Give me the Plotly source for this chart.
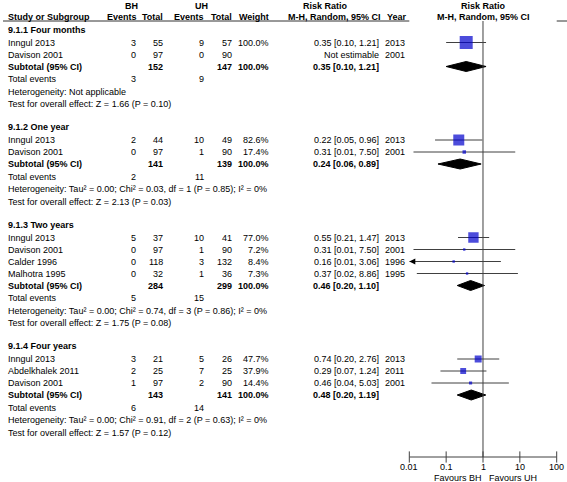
import math
import plotly.graph_objects as go

W, H = 567, 482

# ---------------- data ----------------
groups = ["9.1.1 Four months", "9.1.2 One year", "9.1.3 Two years", "9.1.4 Four years"]
study_group = [0, 0, 1, 1, 2, 2, 2, 2, 3, 3, 3]
study_names = ["Inngul 2013", "Davison 2001", "Inngul 2013", "Davison 2001", "Inngul 2013",
               "Davison 2001", "Calder 1996", "Malhotra 1995", "Inngul 2013",
               "Abdelkhalek 2011", "Davison 2001"]
bh_events = [3, 0, 2, 0, 5, 0, 0, 0, 3, 2, 1]
bh_total = [55, 97, 44, 97, 37, 97, 118, 32, 21, 25, 97]
uh_events = [9, 0, 10, 1, 10, 1, 3, 1, 5, 7, 2]
uh_total = [57, 90, 49, 90, 41, 90, 132, 36, 26, 25, 90]
weights = [100.0, None, 82.6, 17.4, 77.0, 7.2, 8.4, 7.3, 47.7, 37.9, 14.4]
rr = [0.35, None, 0.22, 0.31, 0.55, 0.31, 0.16, 0.37, 0.74, 0.29, 0.46]
rr_lo = [0.10, None, 0.05, 0.013, 0.21, 0.013, 0.008, 0.016, 0.20, 0.07, 0.04]
rr_hi = [1.21, None, 0.96, 7.50, 1.47, 7.50, 3.06, 8.86, 2.76, 1.24, 5.03]
years = [2013, 2001, 2013, 2001, 2013, 2001, 1996, 1995, 2013, 2011, 2001]

sub_bh_total = [152, 141, 284, 143]
sub_uh_total = [147, 139, 299, 141]
sub_bh_events = [3, 2, 5, 6]
sub_uh_events = [9, 11, 15, 14]
sub_rr = [0.35, 0.24, 0.46, 0.48]
sub_lo = [0.10, 0.06, 0.20, 0.20]
sub_hi = [1.21, 0.89, 1.10, 1.19]
heterogeneity = [
    "Heterogeneity: Not applicable",
    "Heterogeneity: Tau² = 0.00; Chi² = 0.03, df = 1 (P = 0.85); I² = 0%",
    "Heterogeneity: Tau² = 0.00; Chi² = 0.74, df = 3 (P = 0.86); I² = 0%",
    "Heterogeneity: Tau² = 0.00; Chi² = 0.91, df = 2 (P = 0.63); I² = 0%",
]
overall_effect = [
    "Test for overall effect: Z = 1.66 (P = 0.10)",
    "Test for overall effect: Z = 2.13 (P = 0.03)",
    "Test for overall effect: Z = 1.75 (P = 0.08)",
    "Test for overall effect: Z = 1.57 (P = 0.12)",
]
axis_ticks = [0.01, 0.1, 1, 10, 100]
axis_tick_labels = ["0.01", "0.1", "1", "10", "100"]
favours_left = "Favours BH"
favours_right = "Favours UH"

# ---------------- layout constants ----------------
FONT = "Arial, 'Liberation Sans', sans-serif"
FS = 9
X_NAME, X_BHE, X_BHT, X_UHE, X_UHT, X_WT, X_RR, X_YR = 7, 137, 164, 205, 233, 270, 380, 384
FOREST_L, FOREST_R = 409.3, 556.7
AXIS_Y = 457
SQ_COLOR = "#0000CC"
LINE_COLOR = "#404040"

fig = go.Figure()
ann = []


def txt(x, y, s, anchor="left", bold=False, size=FS, xref="x"):
    if bold:
        s = "<b>" + s + "</b>"
    ann.append(dict(x=x, y=y, xref=xref, yref="y", text=s, showarrow=False,
                    xanchor=anchor, yanchor="middle", borderpad=0,
                    font=dict(family=FONT, size=size, color="black")))


def fmt_rr(v, lo, hi):
    return f"{v:.2f} [{lo:.2f}, {hi:.2f}]"


# headers
txt(131, 6, "BH", "center", True)
txt(201, 6, "UH", "center", True)
txt(325, 6, "Risk Ratio", "center", True)
txt(0, 6, "Risk Ratio", "center", True, xref="x2")
txt(X_NAME, 16.5, "Study or Subgroup", "left", True)
txt(X_BHE + 1, 16.5, "Events", "right", True)
txt(X_BHT, 16.5, "Total", "right", True)
txt(X_UHE, 16.5, "Events", "right", True)
txt(X_UHT, 16.5, "Total", "right", True)
txt(X_WT, 16.5, "Weight", "right", True)
txt(X_RR + 2, 16.5, "M-H, Random, 95% CI", "right", True)
txt(X_YR + 2, 16.5, "Year", "left", True)
txt(0, 16.5, "M-H, Random, 95% CI", "center", True, xref="x2")

# header rule
fig.add_trace(go.Scatter(x=[3, 567], y=[21, 21], mode="lines", xaxis="x", yaxis="y",
                         line=dict(color="#333333", width=1), hoverinfo="skip"))

# ---------------- rows ----------------
sq_x, sq_y, sq_s = [], [], []
y = 29.5
for g, gname in enumerate(groups):
    if g > 0:
        y += 23
    txt(X_NAME, y, gname, "left", True)
    first = True
    for i in [k for k in range(len(study_names)) if study_group[k] == g]:
        y += 13 if first else 12
        first = False
        txt(X_NAME, y, study_names[i])
        txt(X_BHE, y, str(bh_events[i]), "right")
        txt(X_BHT, y, str(bh_total[i]), "right")
        txt(X_UHE, y, str(uh_events[i]), "right")
        txt(X_UHT, y, str(uh_total[i]), "right")
        if weights[i] is not None:
            txt(X_WT, y, f"{weights[i]:.1f}%", "right")
        txt(X_YR, y, str(years[i]), "left")
        if rr[i] is None:
            txt(X_RR, y, "Not estimable", "right")
            continue
        txt(X_RR, y, fmt_rr(rr[i], rr_lo[i], rr_hi[i]), "right")
        lo = max(rr_lo[i], axis_ticks[0])
        hi = min(rr_hi[i], axis_ticks[-1])
        fig.add_trace(go.Scatter(x=[lo, hi], y=[y, y], mode="lines", xaxis="x2", yaxis="y",
                                 line=dict(color=LINE_COLOR, width=1), hoverinfo="skip"))
        if rr_lo[i] < axis_ticks[0]:
            fig.add_trace(go.Scatter(x=[axis_ticks[0]], y=[y], mode="markers", xaxis="x2", yaxis="y",
                                     marker=dict(symbol="arrow-left", size=6, color="black",
                                                 line=dict(width=0)),
                                     hoverinfo="skip", cliponaxis=False))
        sq_x.append(rr[i]); sq_y.append(y); sq_s.append(1.5 + 0.115 * weights[i])
    # subtotal
    y += 12
    txt(X_NAME, y, "Subtotal (95% CI)", "left", True)
    txt(X_BHT, y, str(sub_bh_total[g]), "right", True)
    txt(X_UHT, y, str(sub_uh_total[g]), "right", True)
    txt(X_WT, y, "100.0%", "right", True)
    txt(X_RR, y, fmt_rr(sub_rr[g], sub_lo[g], sub_hi[g]), "right", True)
    h = 5
    fig.add_trace(go.Scatter(x=[sub_lo[g], sub_rr[g], sub_hi[g], sub_rr[g], sub_lo[g]],
                             y=[y, y - h, y, y + h, y], mode="lines", fill="toself",
                             fillcolor="black", line=dict(color="black", width=1),
                             xaxis="x2", yaxis="y", hoverinfo="skip"))
    y += 12.5
    txt(X_NAME, y, "Total events")
    txt(X_BHE, y, str(sub_bh_events[g]), "right")
    txt(X_UHE, y, str(sub_uh_events[g]), "right")
    y += 12.5
    txt(X_NAME, y, heterogeneity[g])
    y += 12.5
    txt(X_NAME, y, overall_effect[g])

# squares
fig.add_trace(go.Scatter(x=sq_x, y=sq_y, mode="markers", xaxis="x2", yaxis="y",
                         marker=dict(symbol="square", size=sq_s, color=SQ_COLOR,
                                     line=dict(width=0)), hoverinfo="skip"))

# vertical line at RR = 1
fig.add_trace(go.Scatter(x=[1, 1], y=[21, AXIS_Y], mode="lines", xaxis="x2", yaxis="y",
                         line=dict(color=LINE_COLOR, width=1), hoverinfo="skip"))
# bottom axis line + crossing ticks
fig.add_trace(go.Scatter(x=[axis_ticks[0], axis_ticks[-1]], y=[AXIS_Y, AXIS_Y], mode="lines",
                         xaxis="x2", yaxis="y", line=dict(color=LINE_COLOR, width=1),
                         hoverinfo="skip", cliponaxis=False))
fig.add_trace(go.Scatter(x=axis_ticks, y=[AXIS_Y] * len(axis_ticks), mode="markers",
                         xaxis="x2", yaxis="y", cliponaxis=False,
                         marker=dict(symbol="line-ns", size=8, line=dict(color=LINE_COLOR, width=1)),
                         hoverinfo="skip"))
for v, lab in zip(axis_ticks, axis_tick_labels):
    txt(math.log10(v), 467, lab, "center", xref="x2")
txt(math.log10(0.97), 477.5, favours_left, "right", xref="x2")
txt(math.log10(1.35), 477.5, favours_right, "left", xref="x2")

fig.update_layout(
    width=W, height=H, margin=dict(l=0, r=0, t=0, b=0),
    paper_bgcolor="white", plot_bgcolor="white", showlegend=False,
    hovermode=False, annotations=ann,
    xaxis=dict(range=[0, W], domain=[0, 1], visible=False, fixedrange=True),
    xaxis2=dict(type="log", range=[-2, 2], domain=[FOREST_L / W, FOREST_R / W],
                anchor="y", visible=False, fixedrange=True),
    yaxis=dict(range=[H, 0], domain=[0, 1], visible=False, fixedrange=True),
)

fig.write_html("out.html", config={"displayModeBar": False, "staticPlot": True},
               post_script="document.body.style.margin='0px';document.body.style.overflow='hidden';")
